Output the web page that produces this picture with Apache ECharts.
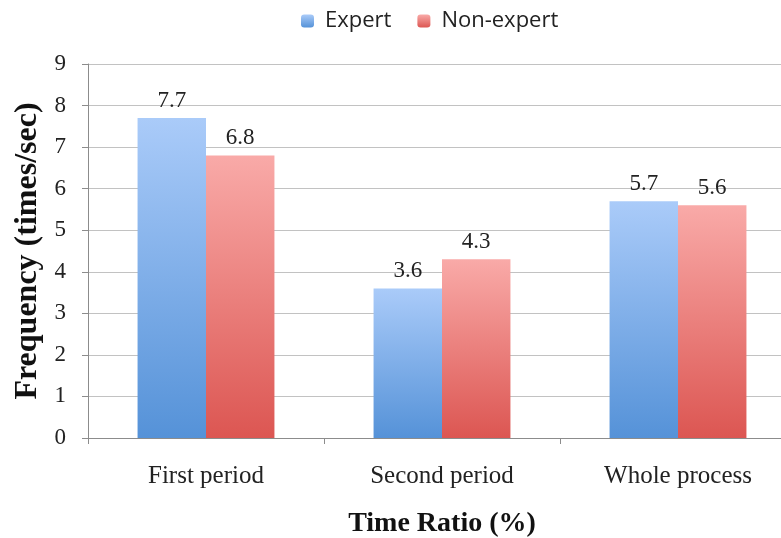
<!DOCTYPE html>
<html>
<head>
<meta charset="utf-8">
<script src="https://cdn.jsdelivr.net/npm/echarts@6/dist/echarts.min.js"></script>
<style>
  html, body { margin: 0; padding: 0; background: #ffffff; overflow: hidden; }
  /* the plot runs a little past the right edge of the window */
  #chart { width: 800px; height: 538px; }
</style>
</head>
<body>
<div id="chart"></div>
<script>
// Frequency per period, expert vs non-expert
var categories = ['First period', 'Second period', 'Whole process'];
var expertValues = [7.7, 3.6, 5.7];
var nonExpertValues = [6.8, 4.3, 5.6];
var yTicks = { min: 0, max: 9, interval: 1 };

function vGrad(top, bottom) {
  return new echarts.graphic.LinearGradient(0, 0, 0, 1, [
    { offset: 0, color: top },
    { offset: 1, color: bottom }
  ]);
}

var serif = '"Liberation Serif", "Times New Roman", serif';
var valueLabel = { show: true, position: 'top', distance: 6, fontFamily: serif, fontSize: 23, color: '#222' };

var chart = echarts.init(document.getElementById('chart'), null, { renderer: 'canvas' });
chart.setOption({
  animation: false,
  backgroundColor: '#ffffff',
  legend: {
    top: 5,
    left: 296,
    itemWidth: 13,
    itemHeight: 13,
    itemGap: 26,
    textStyle: { fontFamily: '"Open Sans", "Noto Sans", sans-serif', fontSize: 22, color: '#222', padding: [0, 0, 0, 6] },
    data: ['Expert', 'Non-expert']
  },
  grid: { left: 88, top: 64, width: 708, height: 374, containLabel: false, outerBoundsMode: 'none' },
  xAxis: {
    type: 'category',
    data: categories,
    name: 'Time Ratio (%)',
    nameLocation: 'middle',
    nameGap: 72,
    nameTextStyle: { fontFamily: serif, fontSize: 28, fontWeight: 'bold', color: '#111' },
    axisLine: { lineStyle: { color: '#8c8c8c', width: 1 } },
    axisTick: { show: true, length: 6, lineStyle: { color: '#8c8c8c' } },
    axisLabel: { fontFamily: serif, fontSize: 25, color: '#222', margin: 26 }
  },
  yAxis: {
    type: 'value',
    min: yTicks.min,
    max: yTicks.max,
    interval: yTicks.interval,
    name: 'Frequency (times/sec)',
    nameLocation: 'middle',
    nameGap: 43,
    nameRotate: 90,
    nameTextStyle: { fontFamily: serif, fontSize: 32, fontWeight: 'bold', color: '#111' },
    axisLine: { show: true, lineStyle: { color: '#8c8c8c', width: 1 } },
    axisTick: { show: true, length: 6, lineStyle: { color: '#8c8c8c' } },
    axisLabel: { fontFamily: serif, fontSize: 23, color: '#222', margin: 22 },
    splitLine: { lineStyle: { color: '#c2c2c2', width: 1 } }
  },
  series: [
    {
      name: 'Expert',
      type: 'bar',
      data: expertValues,
      barGap: '0%',
      barCategoryGap: '42%',
      itemStyle: { color: vGrad('#aacbf9', '#5592d8') },
      label: valueLabel
    },
    {
      name: 'Non-expert',
      type: 'bar',
      data: nonExpertValues,
      itemStyle: { color: vGrad('#f9aaa8', '#dc5652') },
      label: valueLabel
    }
  ]
});
</script>
</body>
</html>
